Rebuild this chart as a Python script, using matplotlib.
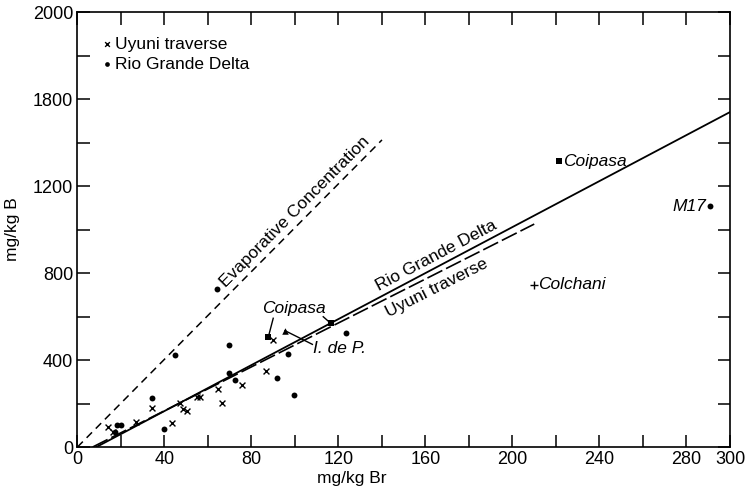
import math
import matplotlib
matplotlib.use("Agg")
import matplotlib.pyplot as plt

plt.rcParams['font.family'] = ['Liberation Sans', 'DejaVu Sans']

# ---- data (mg/kg Br, mg/kg B) ----
uyuni_br = [14, 16.5, 27, 34.4, 43.3, 47, 48.5, 50.5, 54.8, 56.3, 64.7, 66.3, 75.5, 86.7, 90]
uyuni_b = [93, 70, 113, 178, 112, 201, 175, 166, 231, 228, 265, 201, 287, 351, 492]

rio_br = [17.4, 18.3, 20.0, 34.1, 39.9, 44.8, 64, 69.7, 69.7, 72.4, 91.6, 96.6, 99.5, 123.4, 291]
rio_b = [68, 101, 101, 224, 84, 423, 725, 469, 339, 308, 319, 428, 239, 523, 1108]

coipasa_br = [87.7, 116.4, 221.5]
coipasa_b = [504, 569, 1315]
idep_br = [95.4]
idep_b = [535]
colchani_br = [210]
colchani_b = [745]

# trend lines (end points)
evap_br = [0, 140]
evap_b = [0, 1412]
rgd_br = [8.7, 300]
rgd_b = [0, 1540]
uyt_br = [7, 210]
uyt_b = [0, 1025]

x_ticks = list(range(0, 301, 20))
x_labels = {0: '0', 40: '40', 80: '80', 120: '120', 160: '160', 200: '200',
            240: '240', 280: '280', 300: '300'}
y_ticks = list(range(0, 2001, 200))
y_labels = {0: '0', 400: '400', 800: '800', 1200: '1200', 1600: '1800', 2000: '2000'}

FS = 12.5

fig = plt.figure(figsize=(7.5, 4.87), dpi=100)
ax = fig.add_axes([0.1033, 0.0821, 0.87, 0.8932])
ax.set_xlim(0, 300)
ax.set_ylim(0, 2000)

for s in ax.spines.values():
    s.set_linewidth(1.2)

ax.set_xticks(x_ticks)
ax.set_xticklabels([x_labels.get(t, '') for t in x_ticks], fontsize=13)
ax.set_yticks(y_ticks)
ax.set_yticklabels([y_labels.get(t, '') for t in y_ticks], fontsize=13)
ax.tick_params(direction='in', length=9, width=1.1, top=True, right=True, pad=3)

ax.set_xlabel('mg/kg Br', fontsize=FS)
ax.xaxis.set_label_coords(0.42, -0.055)
ax.set_ylabel('mg/kg B', fontsize=FS)
ax.yaxis.set_label_coords(-0.088, 0.5)

# lines
ax.plot(evap_br, evap_b, color='black', lw=1.1, ls=(0, (5, 3.5)))
ax.plot(rgd_br, rgd_b, color='black', lw=1.3, ls='-')
ax.plot(uyt_br, uyt_b, color='black', lw=1.2, ls=(0, (10, 2.5)))

# points
h1 = ax.scatter(uyuni_br, uyuni_b, marker='x', s=18, color='black', linewidths=1.0, label='Uyuni traverse')
h2 = ax.scatter(rio_br, rio_b, marker='o', s=18, color='black', linewidths=0, label='Rio Grande Delta')
ax.scatter(coipasa_br, coipasa_b, marker='s', s=16, color='black', linewidths=0)
ax.scatter(idep_br, idep_b, marker='^', s=22, color='black', linewidths=0)
ax.scatter(colchani_br, colchani_b, marker='+', s=40, color='black', linewidths=1.0)


def ang(xs, ys):
    p0 = ax.transData.transform((xs[0], ys[0]))
    p1 = ax.transData.transform((xs[1], ys[1]))
    return math.degrees(math.atan2(p1[1] - p0[1], p1[0] - p0[0]))


ax.text(100, 1080, 'Evaporative Concentration', fontsize=FS, rotation=ang(evap_br, evap_b),
        ha='center', va='center', rotation_mode='anchor')
ax.text(165, 880, 'Rio Grande Delta', fontsize=FS, rotation=ang(rgd_br, rgd_b),
        ha='center', va='center', rotation_mode='anchor')
ax.text(165, 733, 'Uyuni traverse', fontsize=FS, rotation=ang(uyt_br, uyt_b),
        ha='center', va='center', rotation_mode='anchor')

ax.annotate('Coipasa', xy=(coipasa_br[2], coipasa_b[2]), xytext=(3, 0), textcoords='offset points',
            fontsize=FS, style='italic', ha='left', va='center')
ax.annotate('M17', xy=(rio_br[-1], rio_b[-1]), xytext=(-3, 0), textcoords='offset points',
            fontsize=FS, style='italic', ha='right', va='center')
ax.annotate('Colchani', xy=(colchani_br[0], colchani_b[0]), xytext=(3, 0), textcoords='offset points',
            fontsize=FS, style='italic', ha='left', va='center')

# Coipasa label with two leaders
ax.text(99.5, 636, 'Coipasa', fontsize=FS, style='italic', ha='center', va='center')
ax.plot([90, coipasa_br[0]], [592, coipasa_b[0]], color='black', lw=1.0)
ax.plot([113, coipasa_br[1]], [599, coipasa_b[1]], color='black', lw=1.0)
# I. de P.
ax.text(108.5, 452, 'I. de P.', fontsize=FS, style='italic', ha='left', va='center')
ax.plot([idep_br[0], 108], [idep_b[0], 472], color='black', lw=1.0)

leg = ax.legend(handles=[h1, h2], loc='upper left', bbox_to_anchor=(0.03, 0.96), frameon=False,
                fontsize=FS, handlelength=0.4, handletextpad=0.25, labelspacing=0.3,
                borderaxespad=0, markerscale=0.8)

fig.savefig('out.png', dpi=100)
